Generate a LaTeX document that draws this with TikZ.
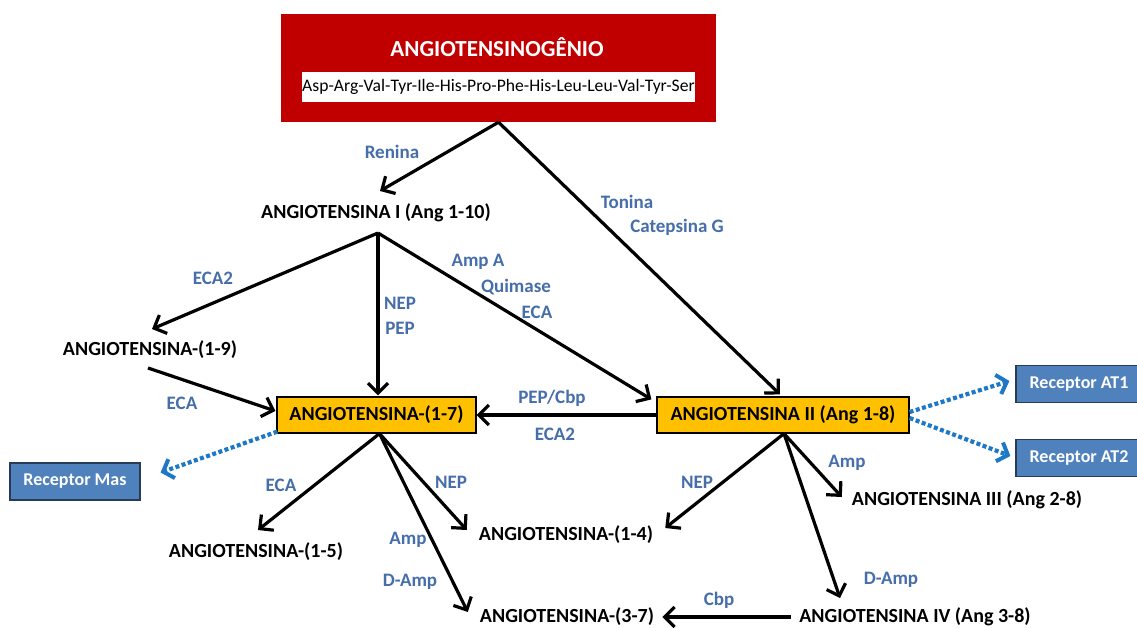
\documentclass[tikz,border=0pt]{standalone}
\usepackage{fontspec}
\setmainfont{Carlito}
\usetikzlibrary{arrows.meta,calc}
\definecolor{agred}{RGB}{192,0,0}
\definecolor{angorange}{RGB}{255,192,0}
\definecolor{lblblue}{RGB}{70,110,170}
\definecolor{recblue}{RGB}{79,129,189}
\definecolor{recborder}{RGB}{40,60,90}
\definecolor{dotblue}{RGB}{30,120,200}
\tikzset{
  pep/.style={font=\fontsize{20}{22}\selectfont\bfseries, text=black, inner sep=0pt},
  enz/.style={font=\fontsize{19}{21}\selectfont\bfseries, text=lblblue, inner sep=0pt},
  obox/.style={pep, draw=black, line width=1.2pt, fill=angorange, minimum height=36pt},
  rbox/.style={font=\fontsize{18}{20}\selectfont\bfseries, text=white, draw=recborder, line width=1.2pt, fill=recblue, minimum height=37pt, inner sep=0pt},
  arr/.style={draw=black, line width=3.2pt, -{Straight Barb[length=10pt,width=20pt,line width=3.2pt]}},
  dotarr/.style={draw=dotblue, line width=4.2pt, dash pattern=on 4pt off 2.5pt, -{Straight Barb[length=9pt,width=20pt,line width=4pt]}}
}
\begin{document}
\begin{tikzpicture}[x=1pt,y=-1pt]
\useasboundingbox (0,0) rectangle (1137,628);
\fill[white] (0,0) rectangle (1137,628);
% top box
\node[fill=agred, minimum width=435pt, minimum height=108pt, inner sep=0pt] (agen) at (498.5,68) {};
\node[font=\fontsize{23}{25}\selectfont\bfseries, text=white, inner sep=0pt] (agtitle) at (497,47) {ANGIOTENSINOGÊNIO};
\node[fill=white, minimum width=391pt, minimum height=30pt, inner sep=0pt, font=\fontsize{17.6}{19}\selectfont] (seq) at (498.5,87) {Asp-Arg-Val-Tyr-Ile-His-Pro-Phe-His-Leu-Leu-Val-Tyr-Ser};
% peptides
\node[pep] (angI) at (376,213) {ANGIOTENSINA I (Ang 1-10)};
\node[pep] (ang19) at (150,350) {ANGIOTENSINA-(1-9)};
\node[obox, minimum width=199pt] (ang17) at (376.5,415) {ANGIOTENSINA-(1-7)};
\node[obox, minimum width=252pt] (ang2) at (783,415) {ANGIOTENSINA II (Ang 1-8)};
\node[pep] (ang15) at (256,552) {ANGIOTENSINA-(1-5)};
\node[pep] (ang14) at (566,535) {ANGIOTENSINA-(1-4)};
\node[pep] (ang37) at (567,617) {ANGIOTENSINA-(3-7)};
\node[pep] (ang3) at (967,500) {ANGIOTENSINA III (Ang 2-8)};
\node[pep] (ang4) at (915,617) {ANGIOTENSINA IV (Ang 3-8)};
% receptors
\node[rbox, minimum width=130pt] (mas) at (75,481.5) {Receptor Mas};
\node[rbox, minimum width=126pt] (at1) at (1079,384) {Receptor AT1};
\node[rbox, minimum width=126pt] (at2) at (1079,458) {Receptor AT2};
% arrows
\draw[arr] (agen.south) -- ($(angI)+(4,-22)$);
\draw[arr] (agen.south) -- ($(ang2.north)+(-3,-2)$);
\draw[arr] ($(angI)+(2,20)$) -- ($(ang19)+(2,-21)$);
\draw[arr] ($(angI)+(2,20)$) -- ($(ang17.north)+(1.5,-1)$);
\draw[arr] ($(angI)+(2,20)$) -- ($(ang2.north west)+(-5,3)$);
\draw[arr] ($(ang19)+(-2,18)$) -- ($(ang17.west)+(-1,-4)$);
\draw[arr] (ang2.west) -- (ang17.east);
\draw[arr] ($(ang17.south)+(3,0)$) -- ($(ang15)+(2,-22)$);
\draw[arr] ($(ang17.south)+(3,0)$) -- ($(ang14.west)+(-12,-5)$);
\draw[arr] ($(ang17.south)+(3,0)$) -- ($(ang37.west)+(-12,-5)$);
\draw[arr] ($(ang2.south)+(1,0)$) -- ($(ang14.east)+(12,-7)$);
\draw[arr] ($(ang2.south)+(1,0)$) -- ($(ang3.west)+(-10,-3)$);
\draw[arr] ($(ang2.south)+(1,0)$) -- ($(ang4)+(-75,-19)$);
\draw[arr] ($(ang4.west)+(-8,0)$) -- ($(ang37.east)+(8,0)$);
% dotted receptor arrows
\draw[dotarr] ($(ang17.south west)+(1,-2)$) -- ($(mas.east)+(20,-9)$);
\draw[dotarr] ($(ang2.east)+(0,-3)$) -- ($(at1.west)+(-6,-3)$);
\draw[dotarr] ($(ang2.east)+(0,3)$) -- ($(at2.west)+(-5,-2)$);
% enzyme labels
\node[enz] (lren) at (392,152) {Renina};
\node[enz] (lton) at (627,202) {Tonina};
\node[enz] (lcat) at (677,227) {Catepsina G};
\node[enz] (leca2a) at (213,278) {ECA2};
\node[enz] (lnepa) at (400,303) {NEP};
\node[enz] (lpepa) at (400,328) {PEP};
\node[enz] (lampa) at (478,262) {Amp A};
\node[enz] (lqui) at (516,287) {Quimase};
\node[enz] (lecaa) at (537,312) {ECA};
\node[enz] (lecab) at (182,403) {ECA};
\node[enz] (lpepcbp) at (552,398) {PEP/Cbp};
\node[enz] (leca2b) at (555,434) {ECA2};
\node[enz] (lecac) at (281,485) {ECA};
\node[enz] (lnepb) at (451,482) {NEP};
\node[enz] (lampb) at (408,540) {Amp};
\node[enz] (ldampa) at (410,582) {D-Amp};
\node[enz] (lnepc) at (697,482) {NEP};
\node[enz] (lampc) at (847,463) {Amp};
\node[enz] (ldampb) at (891,580) {D-Amp};
\node[enz] (lcbp) at (719,600) {Cbp};
\end{tikzpicture}
\end{document}
